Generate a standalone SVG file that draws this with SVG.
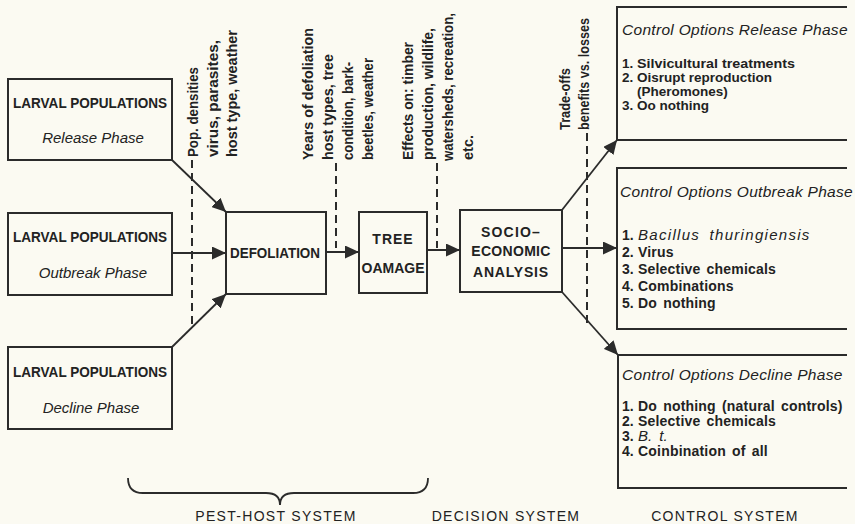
<svg xmlns="http://www.w3.org/2000/svg" width="855" height="524" viewBox="0 0 855 524">
<defs>
<style>
.bg{fill:#fbfaf2}
.box{fill:none;stroke:#2b2b2b;stroke-width:2}
.ln{fill:none;stroke:#2b2b2b;stroke-width:1.8}
.dash{fill:none;stroke:#2b2b2b;stroke-width:2;stroke-dasharray:8 5}
.b{font-family:"Liberation Sans",Arial,sans-serif;font-weight:bold;font-size:14px;fill:#222}
.r{font-size:13.5px}
.v{font-family:"Liberation Sans",Arial,sans-serif;font-weight:bold;font-size:14.5px;fill:#222}
.i{font-family:"Liberation Sans",Arial,sans-serif;font-style:italic;font-size:15px;fill:#222}
.h{font-family:"Liberation Sans",Arial,sans-serif;font-style:italic;font-size:15.5px;fill:#222;letter-spacing:0.3px}
.it{font-family:"Liberation Sans",Arial,sans-serif;font-style:italic;font-size:15px;fill:#222;letter-spacing:1.3px;word-spacing:4px}
.s{font-family:"Liberation Sans",Arial,sans-serif;font-size:14px;fill:#222;letter-spacing:1.3px}
.m{text-anchor:middle}
.ws{word-spacing:2px;letter-spacing:0.2px}
</style>
<marker id="ah" viewBox="0 0 14 13" refX="14" refY="6.5" markerWidth="14" markerHeight="13" orient="auto" markerUnits="userSpaceOnUse">
<path d="M0,0 L14,6.5 L0,13 z" fill="#2b2b2b"/>
</marker>
</defs>
<rect class="bg" x="0" y="0" width="855" height="524"/>

<g id="larval-release">
<rect class="box" x="8" y="79" width="164" height="81"/>
<text class="b m" x="90" y="108" textLength="154" lengthAdjust="spacingAndGlyphs">LARVAL POPULATIONS</text>
<text class="i m" x="93" y="143">Release Phase</text>
</g>
<g id="larval-outbreak">
<rect class="box" x="8" y="213" width="164" height="82"/>
<text class="b m" x="90" y="242" textLength="154" lengthAdjust="spacingAndGlyphs">LARVAL POPULATIONS</text>
<text class="i m" x="93" y="278">Outbreak Phase</text>
</g>
<g id="larval-decline">
<rect class="box" x="8" y="347" width="164" height="82"/>
<text class="b m" x="90" y="377" textLength="154" lengthAdjust="spacingAndGlyphs">LARVAL POPULATIONS</text>
<text class="i m" x="91" y="413">Decline Phase</text>
</g>
<g id="defoliation">
<rect class="box" x="226" y="212" width="100" height="82"/>
<text class="b m" x="275" y="258" textLength="90" lengthAdjust="spacingAndGlyphs">DEFOLIATION</text>
</g>
<g id="tree-damage">
<rect class="box" x="359" y="212" width="68" height="81"/>
<text class="b m" x="393" y="244" style="letter-spacing:1px">TREE</text>
<text class="b m" x="393" y="273">OAMAGE</text>
</g>
<g id="socio-economic">
<rect class="box" x="460" y="210" width="102" height="82"/>
<text class="b m" x="511" y="237" style="letter-spacing:1.2px">SOCIO–</text>
<text class="b m" x="511" y="256" style="letter-spacing:0.3px">ECONOMIC</text>
<text class="b m" x="511" y="277" style="letter-spacing:0.8px">ANALYSIS</text>
</g>
<g id="control-release">
<path class="box" d="M847,7 H617 V140 H847"/>
<text class="h" x="622" y="35">Control Options Release Phase</text>
<text class="b r" x="622" y="68">1.</text><text class="b r" x="637" y="68" textLength="158" lengthAdjust="spacingAndGlyphs">Silvicultural treatments</text>
<text class="b r" x="622" y="82">2.</text><text class="b r" x="637" y="82">Oisrupt reproduction</text>
<text class="b r" x="637" y="96">(Pheromones)</text>
<text class="b r" x="622" y="110">3.</text><text class="b r" x="637" y="110">Oo nothing</text>
</g>
<g id="control-outbreak">
<path class="box" d="M847,168 H617 V329 H847"/>
<text class="h" x="620" y="197">Control Options Outbreak Phase</text>
<text class="b" x="622" y="240">1.</text><text class="it" x="638" y="240">Bacillus thuringiensis</text>
<text class="b" x="622" y="257">2.</text><text class="b ws" x="638" y="257">Virus</text>
<text class="b" x="622" y="274">3.</text><text class="b ws" x="638" y="274">Selective chemicals</text>
<text class="b" x="622" y="291">4.</text><text class="b ws" x="638" y="291">Combinations</text>
<text class="b" x="622" y="308">5.</text><text class="b ws" x="638" y="308">Do nothing</text>
</g>
<g id="control-decline">
<path class="box" d="M847,355 H618 V488 H847"/>
<text class="h" x="622" y="380">Control Options Decline Phase</text>
<text class="b" x="622" y="411">1.</text><text class="b ws" x="638" y="411">Do nothing (natural controls)</text>
<text class="b" x="622" y="426">2.</text><text class="b ws" x="638" y="426">Selective chemicals</text>
<text class="b" x="622" y="441">3.</text><text class="i" x="638" y="441" style="word-spacing:3px">B. t.</text>
<text class="b" x="622" y="456">4.</text><text class="b ws" x="638" y="456">Coinbination of all</text>
</g>

<g id="connectors">
<line class="ln" x1="172" y1="160" x2="226" y2="212" marker-end="url(#ah)"/>
<line class="ln" x1="172" y1="253" x2="226" y2="253" marker-end="url(#ah)"/>
<line class="ln" x1="172" y1="347" x2="226" y2="294" marker-end="url(#ah)"/>
<line class="ln" x1="326" y1="252" x2="359" y2="252" marker-end="url(#ah)"/>
<line class="ln" x1="427" y1="250" x2="460" y2="250" marker-end="url(#ah)"/>
<line class="ln" x1="562" y1="210" x2="617" y2="140" marker-end="url(#ah)"/>
<line class="ln" x1="562" y1="248" x2="617" y2="248" marker-end="url(#ah)"/>
<line class="ln" x1="562" y1="292" x2="618" y2="355" marker-end="url(#ah)"/>
<line class="dash" x1="192" y1="160" x2="192" y2="324"/>
<line class="dash" x1="336" y1="163" x2="336" y2="248"/>
<line class="dash" x1="437" y1="163" x2="437" y2="248"/>
<line class="dash" x1="587" y1="133" x2="587" y2="324"/>
</g>

<g id="influence-labels">
<text class="v" transform="translate(198,157) rotate(-90)" textLength="90" lengthAdjust="spacingAndGlyphs">Pop. densities</text>
<text class="v" transform="translate(218,157) rotate(-90)" textLength="117" lengthAdjust="spacingAndGlyphs">virus, parasites,</text>
<text class="v" transform="translate(237,157) rotate(-90)" textLength="127" lengthAdjust="spacingAndGlyphs">host type, weather</text>
<text class="v" transform="translate(313,160) rotate(-90)" textLength="132" lengthAdjust="spacingAndGlyphs">Years of defoliation</text>
<text class="v" transform="translate(333,160) rotate(-90)" textLength="106" lengthAdjust="spacingAndGlyphs">host types, tree</text>
<text class="v" transform="translate(353,160) rotate(-90)" textLength="98" lengthAdjust="spacingAndGlyphs">condition, bark-</text>
<text class="v" transform="translate(373,160) rotate(-90)" textLength="102" lengthAdjust="spacingAndGlyphs">beetles, weather</text>
<text class="v" transform="translate(413,160) rotate(-90)" textLength="118" lengthAdjust="spacingAndGlyphs">Effects on: timber</text>
<text class="v" transform="translate(433,160) rotate(-90)" textLength="132" lengthAdjust="spacingAndGlyphs">production, wildlife,</text>
<text class="v" transform="translate(453,161) rotate(-90)" textLength="148" lengthAdjust="spacingAndGlyphs">watersheds, recreation,</text>
<text class="v" transform="translate(473,160) rotate(-90)">etc.</text>
<text class="v" transform="translate(570,130) rotate(-90)" textLength="62" lengthAdjust="spacingAndGlyphs">Trade-offs</text>
<text class="v" transform="translate(589,130) rotate(-90)" textLength="112" lengthAdjust="spacingAndGlyphs">benefits vs. losses</text>
</g>

<g id="system-labels">
<path class="ln" d="M128,478 Q128,493 143,493 H266 Q280,493 280,505 Q280,493 294,493 H413 Q428,493 428,478"/>
<text class="s m" x="276" y="521">PEST-HOST SYSTEM</text>
<text class="s m" x="506" y="521">DECISION SYSTEM</text>
<text class="s m" x="725" y="521">CONTROL SYSTEM</text>
</g>
</svg>
